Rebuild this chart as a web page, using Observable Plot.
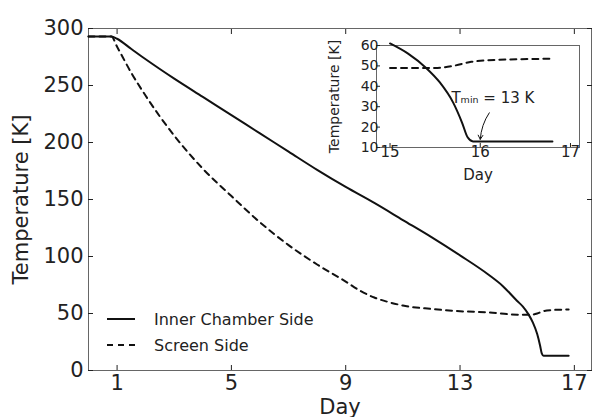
<!DOCTYPE html>
<html><head><meta charset="utf-8">
<script src="https://cdn.jsdelivr.net/npm/d3@7"></script>
<script src="https://cdn.jsdelivr.net/npm/@observablehq/plot@0.6"></script>
<style>
body{margin:0;background:#fff;font-family:"DejaVu Sans",sans-serif}
#wrap{position:relative;width:596px;height:417px}
#inset{position:absolute;left:314px;top:30px}
#legend{position:absolute;left:107px;top:306px;font-size:16px;color:#222}
#legend div{display:flex;align-items:center;height:26px}
#legend svg{margin-right:19px}
</style></head><body>
<div id="wrap"><div id="main"></div><div id="inset"></div>
<div id="legend">
<div><svg width="28" height="4"><line x1="0" y1="2" x2="28" y2="2" stroke="#111" stroke-width="2"/></svg>Inner Chamber Side</div>
<div><svg width="28" height="4"><line x1="0" y1="2" x2="28" y2="2" stroke="#111" stroke-width="2" stroke-dasharray="6,5"/></svg>Screen Side</div>
</div></div>
<script>
const innerDay  = [0, 0.8, 1, 1.5, 2, 3, 4, 5, 6, 7, 8, 9, 10, 11, 12, 13, 14, 14.5, 15, 15.2, 15.4, 15.55, 15.7, 15.8, 15.86, 15.92, 16, 16.8];
const innerTemp = [293, 293, 291, 282, 273, 256, 240, 224, 208, 192, 176, 161, 147, 132, 117, 101, 84, 74, 61, 56, 49, 42, 32, 22, 15, 13, 13, 13];
const screenDay  = [0, 0.8, 1, 1.5, 2, 3, 4, 5, 6, 7, 8, 9, 9.5, 10, 10.5, 11, 12, 13, 14, 15, 15.5, 15.7, 15.9, 16.2, 16.8];
const screenTemp = [293, 293, 284, 261, 241, 206, 177, 153, 130, 110, 93, 78, 70, 64, 60, 57, 54, 52, 51, 49, 49, 50, 52, 53, 53.5];
const mainTicksX = [1, 5, 9, 13, 17];
const mainTicksY = [0, 50, 100, 150, 200, 250, 300];
const insetTicksX = [15, 16, 17];
const insetTicksY = [10, 20, 30, 40, 50, 60];

const inner = innerDay.map((d, i) => ({day: d, temp: innerTemp[i]}));
const screen = screenDay.map((d, i) => ({day: d, temp: screenTemp[i]}));
const ink = "#111";
const blank = () => "";

const main = Plot.plot({
  width: 596, height: 417,
  marginLeft: 88, marginRight: 5, marginTop: 28, marginBottom: 47,
  style: {fontFamily: "DejaVu Sans", fontSize: "21px", color: "#222"},
  x: {domain: [0, 17.6]},
  y: {domain: [0, 300]},
  marks: [
    Plot.frame({stroke: "#666"}),
    Plot.axisX({ticks: mainTicksX, tickSize: -5, tickPadding: 10, label: "Day", labelAnchor: "center", labelArrow: "none", labelOffset: 43}),
    Plot.axisX({anchor: "top", ticks: mainTicksX, tickSize: -5, tickFormat: blank, label: null}),
    Plot.axisY({ticks: mainTicksY, tickSize: -5, tickPadding: 10, label: "Temperature [K]", labelAnchor: "center", labelArrow: "none", labelOffset: 75}),
    Plot.axisY({anchor: "right", ticks: mainTicksY, tickSize: -5, tickFormat: blank, label: null}),
    Plot.line(inner, {x: "day", y: "temp", stroke: ink, strokeWidth: 2, curve: "monotone-x"}),
    Plot.line(screen, {x: "day", y: "temp", stroke: ink, strokeWidth: 2, strokeDasharray: "6,5", curve: "monotone-x"})
  ]
});
document.getElementById("main").append(main);

const clip = d => d.day >= 14.85 && d.temp <= 61;
const inset = Plot.plot({
  width: 270, height: 150,
  marginLeft: 62, marginRight: 5, marginTop: 15, marginBottom: 33,
  style: {fontFamily: "DejaVu Sans", fontSize: "15px", color: "#222", background: "transparent", overflow: "visible"},
  x: {domain: [14.85, 17.1]},
  y: {domain: [10, 60]},
  marks: [
    Plot.frame({stroke: "#666", fill: "#fff"}),
    Plot.axisX({ticks: insetTicksX, tickSize: -4, tickPadding: 3, tickFormat: "d", label: "Day", labelAnchor: "center", labelArrow: "none", labelOffset: 32}),
    Plot.axisY({ticks: insetTicksY, tickSize: -4, tickPadding: 2, label: "Temperature [K]", labelAnchor: "center", labelArrow: "none", labelOffset: 47, fontSize: 14}),
    Plot.line(inner.filter(clip), {x: "day", y: "temp", stroke: ink, strokeWidth: 2, curve: "monotone-x"}),
    Plot.line(screen.filter(clip), {x: "day", y: "temp", stroke: ink, strokeWidth: 2, strokeDasharray: "6,5", curve: "monotone-x"}),
    Plot.arrow([{x1: 16.1, y1: 27, x2: 16.0, y2: 14}], {x1: "x1", y1: "y1", x2: "x2", y2: "y2", bend: -15, stroke: ink, strokeWidth: 1, headLength: 7}),
    Plot.text([{x: 15.68, y: 34, t: "T\u2098\u1d62\u2099 = 13 K"}], {x: "x", y: "y", text: "t", textAnchor: "start", fontSize: 15, fill: "#222"})
  ]
});
document.getElementById("inset").append(inset);
</script>
</body></html>
